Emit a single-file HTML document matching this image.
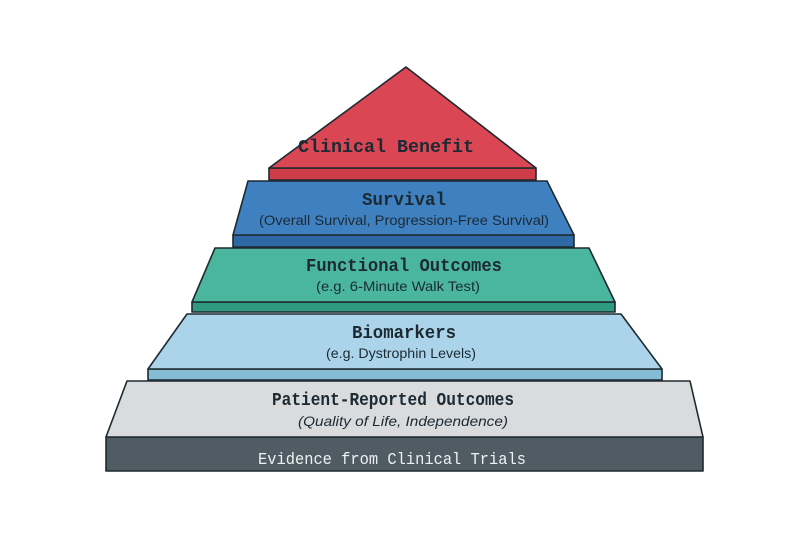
<!DOCTYPE html>
<html><head><meta charset="utf-8"><style>
html,body{margin:0;padding:0;background:#fff;}
svg{display:block;}
.t{font-family:"Liberation Mono",monospace;fill:#1c2a33;text-anchor:middle;font-weight:bold;}
.s{font-family:"Liberation Sans Narrow","Liberation Sans",sans-serif;fill:#1c2a33;text-anchor:middle;}
</style></head><body>
<svg width="808" height="538" viewBox="0 0 808 538" xmlns="http://www.w3.org/2000/svg">
<g stroke="#1d2a30" stroke-width="1.6" stroke-linejoin="round">
<rect x="106" y="437" width="597" height="34" fill="#505c63"/>
<polygon points="127,381 690,381 703,437 106,437" fill="#d9dbdc"/>
<rect x="148" y="369" width="514" height="11" fill="#86bdd6"/>
<polygon points="187,314 621,314 662,369 148,369" fill="#abd4ea"/>
<rect x="192" y="302" width="423" height="10" fill="#2f9a80"/>
<polygon points="215,248 589,248 615,302 192,302" fill="#4ab69d"/>
<rect x="233" y="235" width="341" height="12" fill="#2e69a6"/>
<polygon points="248,181 547,181 574,235 233,235" fill="#3f80c0"/>
<rect x="269" y="168" width="267" height="12" fill="#cf3d4a"/>
<polygon points="406,67 536,168 269,168" fill="#da4654"/>
</g>
<text class="t" x="386" y="152" font-size="18" textLength="176" lengthAdjust="spacingAndGlyphs">Clinical Benefit</text>
<text class="t" x="404" y="205" font-size="18" textLength="84" lengthAdjust="spacingAndGlyphs">Survival</text>
<text class="s" x="404" y="225" font-size="14" textLength="290" lengthAdjust="spacingAndGlyphs">(Overall Survival, Progression-Free Survival)</text>
<text class="t" x="404" y="271" font-size="18" textLength="196" lengthAdjust="spacingAndGlyphs">Functional Outcomes</text>
<text class="s" x="398" y="291" font-size="14" textLength="164" lengthAdjust="spacingAndGlyphs">(e.g. 6-Minute Walk Test)</text>
<text class="t" x="404" y="338" font-size="18" textLength="104" lengthAdjust="spacingAndGlyphs">Biomarkers</text>
<text class="s" x="401" y="358" font-size="14" textLength="150" lengthAdjust="spacingAndGlyphs">(e.g. Dystrophin Levels)</text>
<text class="t" x="393" y="405" font-size="18" textLength="242" lengthAdjust="spacingAndGlyphs">Patient-Reported Outcomes</text>
<text class="s" x="403" y="426" font-size="14" font-style="italic" textLength="210" lengthAdjust="spacingAndGlyphs">(Quality of Life, Independence)</text>
<text class="t" x="392" y="464" font-size="17" textLength="268" lengthAdjust="spacingAndGlyphs" style="fill:#eef1f2;font-weight:normal">Evidence from Clinical Trials</text>
</svg>
</body></html>
